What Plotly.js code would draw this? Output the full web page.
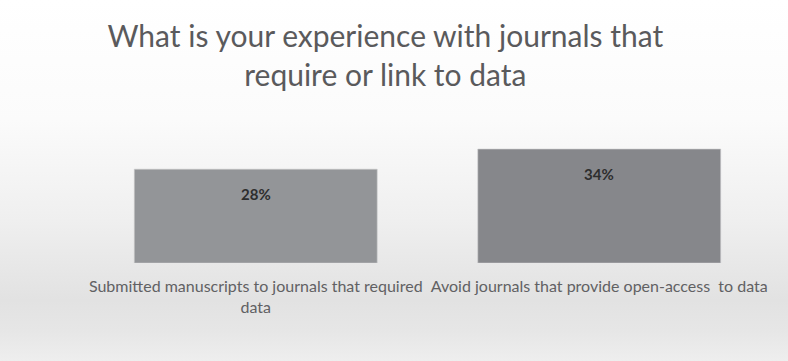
<!DOCTYPE html>
<html>
<head>
<meta charset="utf-8">
<script src="https://cdn.plot.ly/plotly-3.0.1.min.js"></script>
<style>
html, body { margin:0; padding:0; width:788px; height:361px; overflow:hidden;
  background: linear-gradient(to bottom, #ffffff 0px, #fbfbfb 120px, #efefef 220px, #e2e2e2 300px, #e6e6e6 330px, #eeeeee 361px); }
#chart { width:788px; height:361px; }
</style>
</head>
<body>
<div id="chart"></div>
<script>
var categories = ["Submitted manuscripts to journals that required<br>data", "Avoid journals that provide open-access  to data"];
var values = [28, 34];
var valueLabels = ["28%", "34%"];
var barColors = ["#939598", "#86878b"];

var trace = {
  type: "bar",
  x: categories,
  y: values,
  marker: { color: barColors, line: { color: "#c8c8ca", width: 0.6 } },
  hoverinfo: "none"
};

var annotations = categories.map(function (c, i) {
  return {
    x: c, y: values[i], xref: "x", yref: "y",
    text: "<b>" + valueLabels[i] + "</b>",
    showarrow: false, yanchor: "top", yshift: -14,
    font: { family: "Lato, 'Open Sans', sans-serif", size: 15, color: "#2e2e2e" }
  };
});

var layout = {
  width: 788, height: 361,
  paper_bgcolor: "rgba(0,0,0,0)",
  plot_bgcolor: "rgba(0,0,0,0)",
  margin: { l: 84, r: 17, t: 129, b: 98 },
  bargap: 0.293,
  showlegend: false,
  title: {
    text: "What is your experience with journals that<br>require or link to data",
    x: 0.489, xanchor: "center", xref: "container",
    y: 0.87, yanchor: "top", yref: "container",
    font: { family: "Lato, 'Open Sans', sans-serif", size: 30, color: "#5a5a5c" }
  },
  xaxis: {
    showline: false, showgrid: false, zeroline: false, ticks: "",
    tickangle: 0,
    ticklabelstandoff: 12,
    tickfont: { family: "Lato, 'Open Sans', sans-serif", size: 16, color: "#616163" }
  },
  yaxis: { visible: false, range: [0, 40], showgrid: false, zeroline: false },
  annotations: annotations
};

Plotly.newPlot("chart", [trace], layout, { displayModeBar: false, staticPlot: true });
</script>
</body>
</html>
